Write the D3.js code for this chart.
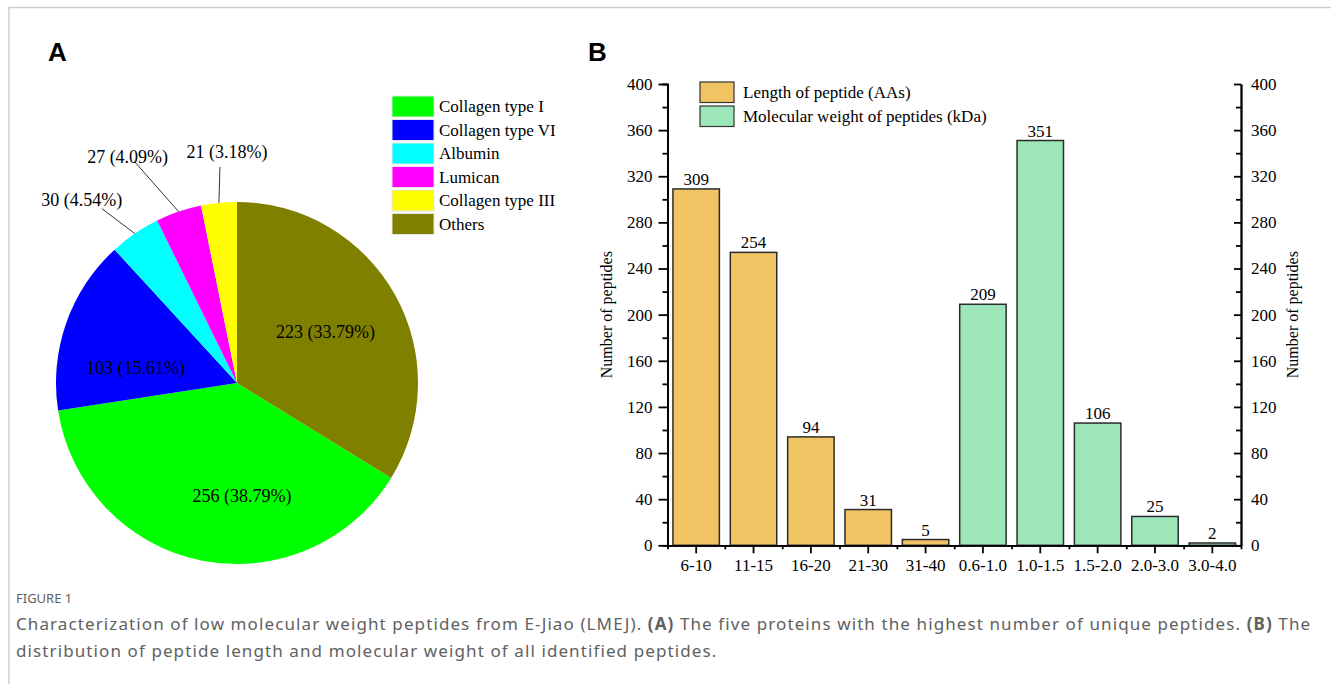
<!DOCTYPE html>
<html>
<head>
<meta charset="utf-8">
<script src="https://cdn.jsdelivr.net/npm/d3@7"></script>
<style>
  body { margin: 0; background: #fff; }
  svg text { font-family: "Liberation Serif", "Times New Roman", serif; }
</style>
</head>
<body>
<script>
var width = 1331,
    height = 684;

// panel A data
var proteins = ['Collagen type I', 'Collagen type VI', 'Albumin', 'Lumican', 'Collagen type III', 'Others'];
var peptideCounts = [256, 103, 30, 27, 21, 223];
var percents = ['38.79%', '15.61%', '4.54%', '4.09%', '3.18%', '33.79%'];

// panel B data
var lengthBins = ['6-10', '11-15', '16-20', '21-30', '31-40'];
var lengthCounts = [309, 254, 94, 31, 5];
var weightBins = ['0.6-1.0', '1.0-1.5', '1.5-2.0', '2.0-3.0', '3.0-4.0'];
var weightCounts = [209, 351, 106, 25, 2];
var seriesNames = ['Length of peptide (AAs)', 'Molecular weight of peptides (kDa)'];
var yTicks = [0, 40, 80, 120, 160, 200, 240, 280, 320, 360, 400];

var pieColors = ['#00ff00', '#0000ff', '#00ffff', '#ff00ff', '#ffff00', '#808000'];
var barColors = ['#f0c462', '#9de6ba'];

var svg = d3.select('body').append('svg')
    .attr('width', width)
    .attr('height', height);

// page frame
svg.append('path')
    .attr('d', 'M9,' + height + 'V7.5H' + width)
    .attr('fill', 'none')
    .attr('stroke', '#cfcfcf')
    .attr('stroke-width', 1.5);

svg.append('text').attr('x', 48).attr('y', 61).text('A')
    .style('font-family', '"Liberation Sans", Arial, sans-serif')
    .style('font-weight', 'bold').style('font-size', '26px');
svg.append('text').attr('x', 588).attr('y', 61).text('B')
    .style('font-family', '"Liberation Sans", Arial, sans-serif')
    .style('font-weight', 'bold').style('font-size', '26px');

// ---------- A: pie ----------
var radius = 181;
var pieData = proteins.map(function (p, i) {
    return {name: p, value: peptideCounts[i], pct: percents[i], color: pieColors[i]};
});
var total = d3.sum(peptideCounts);
var startA = 2 * Math.PI * peptideCounts[5] / total;

var pie = d3.pie().sort(null).value(function (d) { return d.value; })
    .startAngle(startA).endAngle(startA + 2 * Math.PI);
var arcs = pie(pieData);
var arc = d3.arc().innerRadius(0).outerRadius(radius);
var labelArc = d3.arc().innerRadius(radius * 1.12).outerRadius(0);
var edgeArc = d3.arc().innerRadius(radius).outerRadius(radius);

var pieG = svg.append('g').attr('transform', 'translate(237,383)');
pieG.selectAll('path.slice').data(arcs).enter().append('path')
    .attr('class', 'slice')
    .attr('d', arc)
    .attr('fill', function (d) { return d.data.color; });

// label placement (inside labels: shift from centroid; outside: leader end + text shift)
var labelLayout = {
    'Collagen type I': {inside: true, dx: 25, dy: 20},
    'Collagen type VI': {inside: true, dx: -6, dy: 25},
    'Others': {inside: true, dx: 0, dy: 4},
    'Albumin': {inside: false, lx: -33, ly: -25, tx: -20, ty: -3},
    'Lumican': {inside: false, lx: -44, ly: -50, tx: -7, ty: 1},
    'Collagen type III': {inside: false, lx: 1, ly: -36, tx: 7, ty: -9}
};

arcs.forEach(function (d) {
    var L = labelLayout[d.data.name];
    var txt = d.data.value + ' (' + d.data.pct + ')';
    if (L.inside) {
        var c = labelArc.centroid(d);
        pieG.append('text')
            .attr('x', c[0] + L.dx).attr('y', c[1] + L.dy)
            .attr('text-anchor', 'middle')
            .style('font-size', '18px')
            .text(txt);
    } else {
        var e = edgeArc.centroid(d);
        var p = [e[0] + L.lx, e[1] + L.ly];
        pieG.append('line')
            .attr('x1', e[0]).attr('y1', e[1])
            .attr('x2', p[0]).attr('y2', p[1])
            .attr('stroke', '#333').attr('stroke-width', 1);
        pieG.append('text')
            .attr('x', p[0] + L.tx).attr('y', p[1] + L.ty)
            .attr('text-anchor', 'middle')
            .style('font-size', '18px')
            .text(txt);
    }
});

// pie legend
var pieLeg = svg.append('g').attr('transform', 'translate(392,96)');
var pl = pieLeg.selectAll('g').data(pieData).enter().append('g')
    .attr('transform', function (d, i) { return 'translate(0,' + (i * 23.5) + ')'; });
pl.append('rect')
    .attr('width', 42).attr('height', 21)
    .attr('fill', function (d) { return d.color; })
    .attr('stroke', '#e6e6e6').attr('stroke-width', 1);
pl.append('text')
    .attr('x', 47).attr('y', 10.5).attr('dy', '0.35em')
    .style('font-size', '17px')
    .text(function (d) { return d.name; });

// ---------- B: bars ----------
var bars = lengthBins.map(function (b, i) { return {cat: b, value: lengthCounts[i], s: 0}; })
    .concat(weightBins.map(function (b, i) { return {cat: b, value: weightCounts[i], s: 1}; }));
var cats = bars.map(function (d) { return d.cat; });

var x0 = 667.5, x1 = 1241, yb = 545.3, yt = 84;
var x = d3.scaleBand().domain(cats).range([x0, x1])
    .paddingInner(0.19).paddingOuter(0.095);
var xMinor = d3.scaleLinear().domain([0, cats.length]).range([x0, x1]);
var y = d3.scaleLinear().domain([0, 400]).range([yb, yt]);

var barG = svg.append('g');
barG.selectAll('rect').data(bars).enter().append('rect')
    .attr('x', function (d) { return x(d.cat); })
    .attr('y', function (d) { return y(d.value); })
    .attr('width', x.bandwidth())
    .attr('height', function (d) { return yb - y(d.value); })
    .attr('fill', function (d) { return barColors[d.s]; })
    .attr('stroke', '#2b2b2b').attr('stroke-width', 1.5);

barG.selectAll('text').data(bars).enter().append('text')
    .attr('x', function (d) { return x(d.cat) + x.bandwidth() / 2; })
    .attr('y', function (d) { return y(d.value) - 4; })
    .attr('text-anchor', 'middle')
    .style('font-size', '17px')
    .text(function (d) { return d.value; });

function styleAxis(g) {
    g.selectAll('path, line').attr('stroke', '#000').attr('stroke-width', 1.8);
    g.selectAll('text').style('font-family', '"Liberation Serif", serif')
        .style('font-size', '17px').attr('fill', '#000');
}

// minor ticks
svg.append('g').attr('transform', 'translate(' + x0 + ',0)')
    .call(d3.axisLeft(y).tickValues(d3.range(20, 400, 40)).tickSize(5).tickFormat(''))
    .call(styleAxis);
svg.append('g').attr('transform', 'translate(' + x1 + ',0)')
    .call(d3.axisRight(y).tickValues(d3.range(20, 400, 40)).tickSizeInner(-5).tickSizeOuter(0).tickFormat(''))
    .call(styleAxis);
svg.append('g').attr('transform', 'translate(0,' + yb + ')')
    .call(d3.axisBottom(xMinor).tickValues(d3.range(1, cats.length)).tickSize(4).tickFormat(''))
    .call(styleAxis);

// major axes
svg.append('g').attr('transform', 'translate(' + x0 + ',0)')
    .call(d3.axisLeft(y).tickValues(yTicks).tickSize(9).tickSizeOuter(0).tickPadding(6))
    .call(styleAxis);
svg.append('g').attr('transform', 'translate(' + x1 + ',0)')
    .call(d3.axisRight(y).tickValues(yTicks).tickSizeInner(-7).tickSizeOuter(0).tickPadding(10))
    .call(styleAxis);
svg.append('g').attr('transform', 'translate(0,' + yb + ')')
    .call(d3.axisBottom(x).tickSizeInner(8).tickSizeOuter(0).tickPadding(6))
    .call(styleAxis);

svg.append('text')
    .attr('transform', 'translate(612,' + ((yb + yt) / 2) + ') rotate(-90)')
    .attr('text-anchor', 'middle')
    .style('font-size', '16px')
    .text('Number of peptides');
svg.append('text')
    .attr('transform', 'translate(1298,' + ((yb + yt) / 2) + ') rotate(-90)')
    .attr('text-anchor', 'middle')
    .style('font-size', '16px')
    .text('Number of peptides');

// bar legend
var barLeg = svg.append('g').attr('transform', 'translate(700,82)');
var bl = barLeg.selectAll('g').data(seriesNames).enter().append('g')
    .attr('transform', function (d, i) { return 'translate(0,' + (i * 24) + ')'; });
bl.append('rect')
    .attr('width', 34).attr('height', 20.5)
    .attr('fill', function (d, i) { return barColors[i]; })
    .attr('stroke', '#333').attr('stroke-width', 1.2);
bl.append('text')
    .attr('x', 43).attr('y', 10.25).attr('dy', '0.35em')
    .style('font-size', '17px')
    .text(function (d) { return d; });

// ---------- caption ----------
var cap = svg.append('g')
    .style('fill', '#616161');
cap.append('text').attr('x', 16).attr('y', 603)
    .style('font-family', '"Noto Sans", sans-serif').style('font-size', '13px')
    .text('FIGURE 1');
var line1 = cap.append('text').attr('x', 16).attr('y', 630)
    .style('font-family', '"Noto Sans", sans-serif').style('font-size', '17px')
    .style('letter-spacing', '1.1px');
line1.append('tspan').text('Characterization of low molecular weight peptides from E-Jiao (LMEJ). ');
line1.append('tspan').style('font-weight', 'bold').text('(A)');
line1.append('tspan').text(' The five proteins with the highest number of unique peptides. ');
line1.append('tspan').style('font-weight', 'bold').text('(B)');
line1.append('tspan').text(' The');
cap.append('text').attr('x', 16).attr('y', 657)
    .style('font-family', '"Noto Sans", sans-serif').style('font-size', '17px')
    .style('letter-spacing', '1.1px')
    .text('distribution of peptide length and molecular weight of all identified peptides.');
</script>
</body>
</html>
